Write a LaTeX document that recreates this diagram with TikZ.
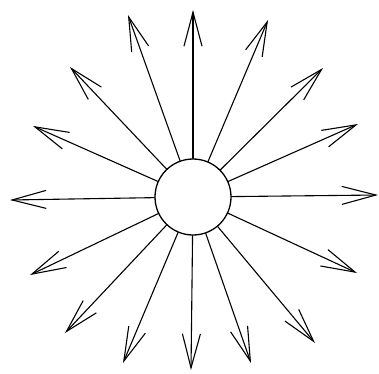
\documentclass[tikz,border=0pt]{standalone}
\usetikzlibrary{arrows.meta}
\begin{document}
\begin{tikzpicture}[x=1pt,y=-1pt,
  ray/.style={line width=1.1pt,line join=round,line cap=round,
    -{Straight Barb[length=34pt,width=18pt,line width=1.1pt]}}]
\useasboundingbox (0,0) rectangle (379,373);
\node[draw,circle,line width=1.3pt,minimum size=76pt,inner sep=0pt] (c) at (193,197) {};
\coordinate (t1) at (193,10);
\coordinate (t2) at (268,20);
\coordinate (t3) at (323,68);
\coordinate (t4) at (358,124);
\coordinate (t5) at (378,195);
\coordinate (t6) at (357,273);
\coordinate (t7) at (315,343);
\coordinate (t8) at (251,363);
\coordinate (t9) at (191,370);
\coordinate (t10) at (123,363);
\coordinate (t11) at (65,333);
\coordinate (t12) at (30,275);
\coordinate (t13) at (10,200);
\coordinate (t14) at (33,126);
\coordinate (t15) at (70,67);
\coordinate (t16) at (128,15);
\foreach \i in {1,...,16} \draw[ray] (c) -- (t\i);
\end{tikzpicture}
\end{document}
